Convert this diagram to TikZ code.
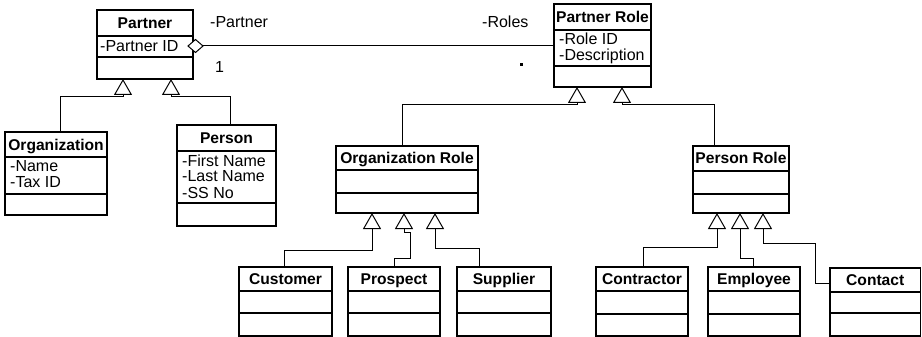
\documentclass[tikz,border=0pt]{standalone}
\usepackage{fontspec}
\setmainfont{Liberation Sans}
\usetikzlibrary{fit,arrows.meta}
\tikzset{
  classbox/.style={draw=black, line width=1.1pt, inner sep=0pt, outer sep=0pt},
  sepline/.style={draw=black, line width=1.5pt},
  titletext/.style={font=\fontsize{15.6}{15.6}\selectfont\bfseries, inner sep=0pt, text height=11pt, text depth=0pt},
  attr/.style={font=\fontsize{16}{16}\selectfont, inner sep=0pt, anchor=west, text height=11.3pt, text depth=0pt},
  lbl/.style={font=\fontsize{16}{16}\selectfont, inner sep=0pt, anchor=west, text height=11.3pt, text depth=0pt},
  gen/.style={draw=black, line width=1pt, -{Triangle[open,length=16pt,width=18pt]}},
  assoc/.style={draw=black, line width=1pt},
  diam/.style={draw=black, fill=white, line width=1pt, line join=miter},
}
\newcommand\umlclass[8]{%
  \coordinate (#1-nw) at (#2,#4);
  \coordinate (#1-se) at (#3,#7);
  \node[classbox, fit=(#1-nw)(#1-se)] (#1) {};
  \draw[sepline] (#2,#5) -- (#3,#5);
  \draw[sepline] (#2,#6) -- (#3,#6);
  \node[titletext] (#1-title) at ({(#2+#3)/2},{(#4+#5)/2}) {#8};
}
\begin{document}
\begin{tikzpicture}[x=1pt,y=-1pt]
\fill[white] (0,0) rectangle (922,337);
\useasboundingbox (0,0) rectangle (922,337);

% classes: name, x1, x2, ytop, yheader, yattr, ybottom, title
\umlclass{partner}{97}{193}{10}{36}{57}{79}{Partner}
\umlclass{org}{5}{107}{132}{157}{194}{215}{Organization}
\umlclass{person}{177}{276}{125}{151}{203}{226}{Person}
\umlclass{prole}{554}{651}{4}{30}{66}{87}{Partner Role}
\umlclass{orole}{336}{478}{146}{170}{193}{213}{Organization Role}
\umlclass{perrole}{693}{789}{146}{171}{194}{213}{Person Role}
\umlclass{cust}{239}{332}{267}{291}{313}{336}{Customer}
\umlclass{pros}{348}{440}{267}{291}{313}{336}{Prospect}
\umlclass{supp}{457}{551}{267}{291}{313}{336}{Supplier}
\umlclass{contr}{596}{688}{267}{291}{314}{336}{Contractor}
\umlclass{empl}{708}{800}{267}{291}{314}{336}{Employee}
\umlclass{cont}{830}{920.5}{268}{292}{313}{336}{Contact}

% attributes
\node[attr] (partner-a1) at (100,46) {-Partner ID};
\node[attr] (org-a1) at (10,166) {-Name};
\node[attr] (org-a2) at (10,182) {-Tax ID};
\node[attr] (person-a1) at (182,161) {-First Name};
\node[attr] (person-a2) at (182,176) {-Last Name};
\node[attr] (person-a3) at (182,193) {-SS No};
\node[attr] (prole-a1) at (559,39) {-Role ID};
\node[attr] (prole-a2) at (559,55) {-Description};

% association with aggregation diamond
\coordinate (dtip) at (188,46);
\coordinate (dend) at (203,46);
\draw[assoc] (dend) -- (prole.west |- dend);
\draw[diam] (dtip) -- (195.5,39.5) -- (dend) -- (195.5,52.5) -- cycle;
\node[lbl] (lpartner) at (210,22) {-Partner};
\node[lbl] (lone) at (215,67) {1};
\node[lbl] (lroles) at (482,22) {-Roles};
\node[fill=black, minimum size=3pt, inner sep=0pt] (lmany) at (521,65) {};

% generalizations
\draw[gen] (org.north -| 60,0) |- (123,97) -- (partner.south -| 123,0);
\draw[gen] (person.north -| 230,0) |- (171,97) -- (partner.south -| 171,0);
\draw[gen] (orole.north -| 402,0) |- (577,105) -- (prole.south -| 577,0);
\draw[gen] (perrole.north -| 714,0) |- (622,105) -- (prole.south -| 622,0);
\draw[gen] (cust.north -| 284,0) |- (372,250) -- (orole.south -| 372,0);
\draw[gen] (pros.north -| 394,0) |- (410,258) |- (404,232) -- (orole.south -| 404,0);
\draw[gen] (supp.north -| 479,0) |- (435,248) -- (orole.south -| 435,0);
\draw[gen] (contr.north -| 643,0) |- (717,247) -- (perrole.south -| 717,0);
\draw[gen] (empl.north -| 753,0) |- (740,258) -- (perrole.south -| 740,0);
\draw[gen] (cont.west |- 0,283) -| (815,243) -| (perrole.south -| 763,0);
\end{tikzpicture}
\end{document}
